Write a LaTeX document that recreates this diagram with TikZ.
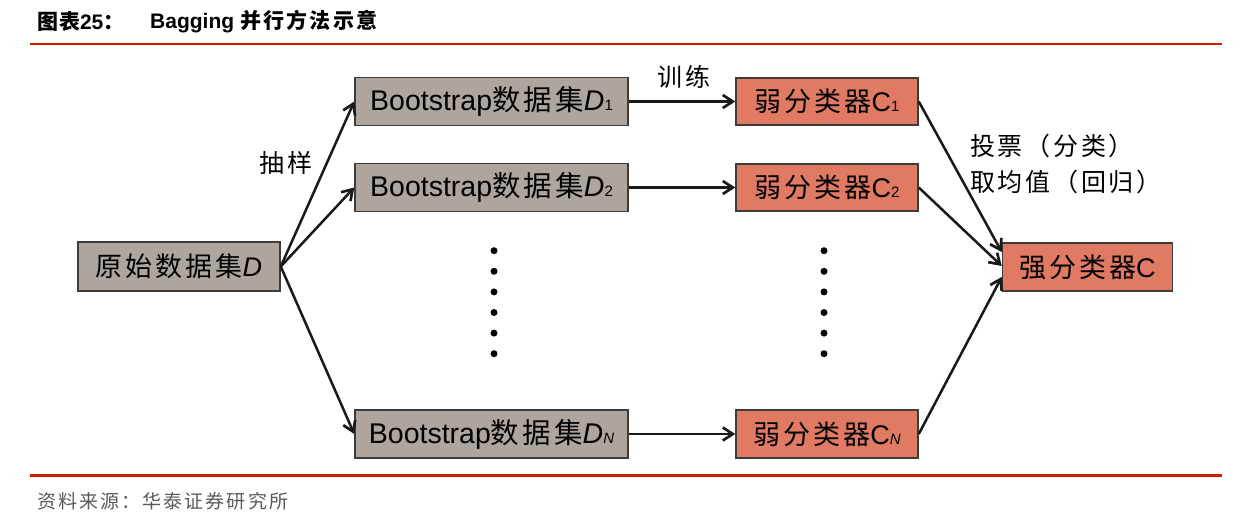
\documentclass[tikz,border=0pt]{standalone}
\usepackage{fontspec}
\setmainfont{Liberation Sans}
\newfontfamily\cjk[LetterSpace=11]{Noto Sans CJK SC}
\newfontfamily\cjkt[LetterSpace=4]{Noto Sans CJK SC}
\usetikzlibrary{arrows.meta}
\definecolor{boxgray}{RGB}{174,166,158}
\definecolor{boxred}{RGB}{224,122,99}
\definecolor{edgegray}{RGB}{60,60,60}
\definecolor{rulered}{RGB}{204,32,0}
\definecolor{srcgray}{RGB}{90,90,90}
\newcommand\subtxt[1]{{\fontsize{15}{15}\selectfont #1}}
\tikzset{
  box/.style={draw=edgegray, line width=1.5pt, inner sep=0pt, text=black,
    font=\fontsize{27}{30}\selectfont},
  graybox/.style={box, fill=boxgray},
  bsbox/.style={graybox, font=\fontsize{28.5}{30}\selectfont},
  redbox/.style={box, fill=boxred},
  conn/.style={line width=2.5pt, draw=black!90,
    -{Straight Barb[length=10pt,width=13pt,line width=2.7pt]}},
  lbl/.style={inner sep=0pt, text=black, font=\fontsize{25}{28}\selectfont\cjk},
  dot/.style={circle, fill=black, inner sep=0pt, minimum size=7pt},
}
\begin{document}
\begin{tikzpicture}[x=1pt,y=-1pt]
\useasboundingbox[fill=white] (0,0) rectangle (1246,530);
% title and rules
\node[anchor=west, inner sep=0pt, font=\fontsize{21}{24}\selectfont\bfseries] (t1) at (37,22)
  {{\cjkt 图表}25{\cjkt ：}};
\node[anchor=west, inner sep=0pt, font=\fontsize{21}{24}\selectfont\bfseries] (t2) at (150,22)
  {Bagging {\cjk 并行方法示意}};
\draw[rulered, line width=2.5pt] (30,44) -- (1222,44);
\draw[rulered, line width=2.5pt] (30,475.5) -- (1222,475.5);
\node[anchor=west, inner sep=0pt, text=srcgray, font=\fontsize{19}{22}\selectfont\cjk] (src) at (37,501)
  {资料来源：华泰证券研究所};
% nodes
\node[graybox, minimum width=202pt, minimum height=49pt] (orig) at (179,266.5)
  {{\cjk 原始数据集}\textit{D}};
\node[bsbox, minimum width=273pt, minimum height=48pt] (b1) at (491.5,101.5)
  {Bootstrap{\cjk 数据集}\textit{D}\subtxt{1}};
\node[bsbox, minimum width=273pt, minimum height=48pt] (b2) at (491.5,187.5)
  {Bootstrap{\cjk 数据集}\textit{D}\subtxt{2}};
\node[bsbox, minimum width=273pt, minimum height=48pt] (bN) at (491.5,434)
  {Bootstrap{\cjk 数据集}\textit{D}\subtxt{\textit{N}}};
\node[redbox, minimum width=182pt, minimum height=47pt] (w1) at (827,101.5)
  {{\cjk 弱分类器}C\subtxt{1}};
\node[redbox, minimum width=182pt, minimum height=47pt] (w2) at (827,187.5)
  {{\cjk 弱分类器}C\subtxt{2}};
\node[redbox, minimum width=182pt, minimum height=48pt] (wN) at (827,434)
  {{\cjk 弱分类器}C\subtxt{\textit{N}}};
\node[redbox, minimum width=170pt, minimum height=48pt] (strong) at (1087.5,267)
  {{\cjk 强分类器}C};
% labels
\node[lbl] (chouyang) at (286,163) {抽样};
\node[lbl] (xunlian) at (684,77) {训练};
\node[lbl, anchor=west] (toupiao) at (970,146) {投票（分类）};
\node[lbl, anchor=west] (junzhi) at (970,182) {取均值（回归）};
% dots
\foreach \i in {0,...,5} {
  \node[dot] (da\i) at (494,250.7+20.6*\i) {};
  \node[dot] (db\i) at (824,250.7+20.6*\i) {};
}
% connectors
\draw[conn] (orig.east) -- (b1.west);
\draw[conn] (orig.east) -- (b2.west);
\draw[conn] (orig.east) -- (bN.west);
\draw[conn] (b1.east) -- (w1.west);
\draw[conn] (b2.east) -- (w2.west);
\draw[conn] (bN.east) -- (wN.west);
\draw[conn] (w1.east) -- ([yshift=15pt]strong.west);
\draw[conn] (w2.east) -- ([yshift=1pt]strong.west);
\draw[conn] (wN.east) -- ([yshift=-10pt]strong.west);
\end{tikzpicture}
\end{document}
